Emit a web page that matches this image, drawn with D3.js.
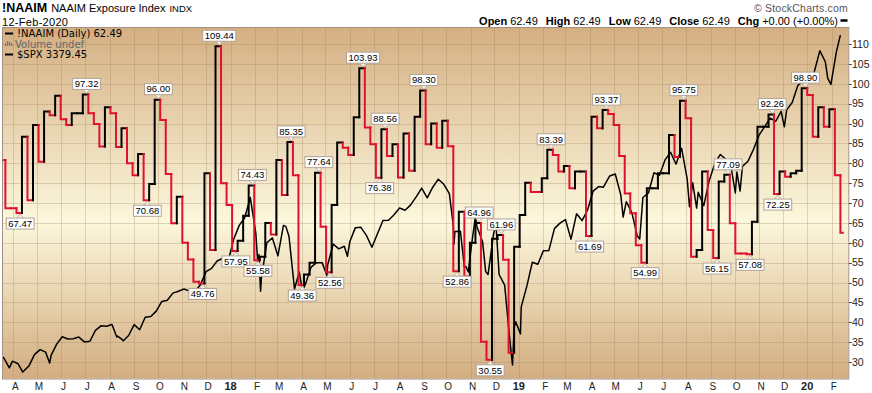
<!DOCTYPE html>
<html>
<head>
<meta charset="utf-8">
<script src="https://cdn.jsdelivr.net/npm/d3@7"></script>
<style>
  body { margin: 0; background: #fff; }
  svg { display: block; font-family: "Liberation Sans", Arial, sans-serif; }
</style>
</head>
<body>
<svg width="872" height="393"></svg>
<script>
// NAAIM weekly readings, first one is Wed 15-Mar-2017 (just left of the chart)
const naaimStart = new Date(2017, 2, 15);
const naaimValues = [
  80.8, 68.7, 68.7, 67.47, 86.7, 70.7, 89.6, 80.4, 93.0, 92.1, 97.0,
  91.1, 89.6, 92.6, 92.6, 97.32, 92.6, 89.9, 84.2, 94.1, 92.6,
  84.1, 88.8, 80.0, 77.0, 82.3, 70.68, 74.8, 96.0, 90.9, 77.3,
  64.9, 71.6, 60.0, 55.8, 50.2, 49.76, 77.5, 58.2, 109.44, 75.0,
  69.5, 57.95, 60.5, 66.8, 74.43, 55.58, 56.5, 65.0, 62.1, 80.8,
  72.0, 85.35, 77.0, 49.36, 52.0, 55.0, 77.64, 64.0, 52.56, 69.5,
  85.2, 83.9, 82.1, 91.6, 103.93, 89.0, 84.8, 76.38, 88.56, 81.8,
  84.8, 76.4, 87.5, 78.1, 91.7, 98.30, 84.8, 90.0, 83.9, 90.7,
  84.3, 52.86, 67.8, 51.5, 60.0, 64.96, 35.1, 30.55, 61.0, 61.96,
  55.7, 32.3, 59.0, 67.0, 75.1, 72.8, 72.8, 76.2, 83.39, 82.1,
  77.9, 79.3, 73.7, 77.9, 77.9, 61.69, 91.7, 88.8, 93.37, 92.4,
  89.6, 81.8, 72.4, 67.4, 59.4, 54.99, 73.7, 73.7, 77.5, 77.5,
  87.1, 81.6, 95.75, 91.3, 56.5, 58.2, 77.9, 63.2, 56.15, 75.4,
  77.09, 64.9, 57.3, 57.3, 57.08, 65.3, 89.2, 89.2, 92.26, 72.25,
  77.9, 76.6, 77.5, 78.1, 98.90, 97.2, 86.7, 94.1, 89.2, 93.6,
  77.0, 62.49
];
const naaimEnd = new Date(2020, 1, 15);

// which weeks carry a value box (index into naaimValues)
const peakWeeks = [15, 28, 39, 45, 52, 57, 65, 69, 76, 86, 90, 99, 109, 123, 131, 139, 145];
const troughWeeks = [3, 26, 36, 42, 46, 54, 59, 68, 82, 88, 106, 116, 129, 135, 140];

// S&P 500 closes
const spxDates = [
  "2017-03-17","2017-03-20","2017-03-27","2017-03-31","2017-04-07","2017-04-13","2017-04-21","2017-04-28",
  "2017-05-05","2017-05-12","2017-05-17","2017-05-19","2017-05-26","2017-06-02","2017-06-09","2017-06-16",
  "2017-06-23","2017-06-30","2017-07-07","2017-07-14","2017-07-21","2017-07-28","2017-08-04","2017-08-10",
  "2017-08-11","2017-08-17","2017-08-18","2017-08-25","2017-09-01","2017-09-08","2017-09-15","2017-09-22",
  "2017-09-29","2017-10-06","2017-10-13","2017-10-20","2017-10-27","2017-11-03","2017-11-10","2017-11-15",
  "2017-11-17","2017-11-24","2017-12-01","2017-12-08","2017-12-15","2017-12-22","2017-12-29",
  "2018-01-05","2018-01-12","2018-01-19","2018-01-26","2018-02-02","2018-02-05","2018-02-06","2018-02-08",
  "2018-02-09","2018-02-16","2018-02-23","2018-03-02","2018-03-09","2018-03-12","2018-03-16","2018-03-23",
  "2018-03-29","2018-04-02","2018-04-06","2018-04-13","2018-04-20","2018-04-27","2018-05-03","2018-05-04",
  "2018-05-11","2018-05-18","2018-05-25","2018-05-29","2018-06-01","2018-06-08","2018-06-15","2018-06-22",
  "2018-06-29","2018-07-06","2018-07-13","2018-07-20","2018-07-27","2018-08-03","2018-08-10","2018-08-17",
  "2018-08-24","2018-08-31","2018-09-07","2018-09-14","2018-09-21","2018-09-28","2018-10-05","2018-10-10",
  "2018-10-11","2018-10-12","2018-10-19","2018-10-24","2018-10-26","2018-10-29","2018-11-02","2018-11-07",
  "2018-11-09","2018-11-16","2018-11-20","2018-11-23","2018-11-30","2018-12-03","2018-12-07","2018-12-14",
  "2018-12-21","2018-12-24","2018-12-26","2018-12-28",
  "2019-01-03","2019-01-04","2019-01-11","2019-01-18","2019-01-25","2019-02-01","2019-02-08","2019-02-15",
  "2019-02-22","2019-03-01","2019-03-08","2019-03-15","2019-03-22","2019-03-29","2019-04-05","2019-04-12",
  "2019-04-18","2019-04-26","2019-05-03","2019-05-10","2019-05-13","2019-05-17","2019-05-24","2019-05-31",
  "2019-06-03","2019-06-07","2019-06-14","2019-06-21","2019-06-28","2019-07-05","2019-07-12","2019-07-19",
  "2019-07-26","2019-08-02","2019-08-05","2019-08-09","2019-08-14","2019-08-16","2019-08-23","2019-08-30",
  "2019-09-06","2019-09-13","2019-09-20","2019-09-27","2019-10-02","2019-10-04","2019-10-08","2019-10-11",
  "2019-10-18","2019-10-25","2019-11-01","2019-11-08","2019-11-15","2019-11-22","2019-11-29","2019-12-03",
  "2019-12-06","2019-12-13","2019-12-20","2019-12-27",
  "2020-01-03","2020-01-10","2020-01-17","2020-01-24","2020-01-27","2020-01-31","2020-02-07","2020-02-12"
];
const spxValues = [
  2378, 2373, 2342, 2363, 2355, 2329, 2349, 2384,
  2399, 2391, 2357, 2382, 2416, 2439, 2432, 2433,
  2438, 2423, 2425, 2459, 2473, 2472, 2477, 2438,
  2441, 2430, 2426, 2443, 2477, 2461, 2500, 2502,
  2519, 2549, 2553, 2575, 2581, 2588, 2582, 2565,
  2579, 2602, 2642, 2652, 2675, 2683, 2674,
  2743, 2786, 2810, 2873, 2762, 2649, 2695, 2581,
  2620, 2732, 2747, 2691, 2786, 2783, 2752, 2588,
  2641, 2582, 2604, 2656, 2670, 2670, 2630, 2663,
  2728, 2713, 2721, 2690, 2735, 2779, 2780, 2755,
  2718, 2760, 2801, 2802, 2819, 2840, 2833, 2850,
  2875, 2902, 2872, 2905, 2930, 2914, 2885, 2786,
  2728, 2767, 2768, 2656, 2658, 2641, 2723, 2814,
  2781, 2736, 2642, 2633, 2760, 2790, 2633, 2600,
  2417, 2351, 2468, 2486,
  2448, 2532, 2596, 2671, 2665, 2707, 2708, 2776,
  2793, 2804, 2743, 2822, 2801, 2834, 2893, 2907,
  2905, 2940, 2946, 2881, 2812, 2860, 2826, 2752,
  2744, 2873, 2887, 2950, 2942, 2990, 3014, 2977,
  3026, 2932, 2844, 2919, 2840, 2889, 2847, 2926,
  2979, 3007, 2992, 2962, 2887, 2952, 2893, 2970,
  2986, 3023, 3067, 3093, 3120, 3110, 3141, 3093,
  3146, 3169, 3221, 3240,
  3235, 3265, 3330, 3295, 3244, 3225, 3328, 3379
];

const yTicks = d3.range(30, 111, 5);
const monthLetters = ["J", "F", "M", "A", "M", "J", "J", "A", "S", "O", "N", "D"];

const plotL = 3, plotR = 848.3, plotT = 28, plotB = 378.5;
const RED = "#e0112f";

const svg = d3.select("svg");
const parse = d3.timeParse("%Y-%m-%d");

const x = d3.scaleTime()
  .domain([new Date(2017, 2, 19), new Date(2020, 1, 22)])
  .range([plotL, plotR]);
const y = d3.scaleLinear().domain([25.85, 114.03]).range([plotB, plotT]);
const ySpx = d3.scaleLinear().domain([2309, 3401]).range([plotB, plotT]);

// background gradient
const defs = svg.append("defs");
const grad = defs.append("linearGradient")
  .attr("id", "bg").attr("x1", 0).attr("y1", 0).attr("x2", 0).attr("y2", 1);
grad.append("stop").attr("offset", "0%").attr("stop-color", "#d4af82");
grad.append("stop").attr("offset", "55%").attr("stop-color", "#fcf7dc");
grad.append("stop").attr("offset", "100%").attr("stop-color", "#d3ad80");
defs.append("clipPath").attr("id", "clip")
  .append("rect").attr("x", plotL).attr("y", plotT)
  .attr("width", plotR - plotL).attr("height", plotB - plotT);

svg.append("rect")
  .attr("x", plotL).attr("y", plotT)
  .attr("width", plotR - plotL).attr("height", plotB - plotT)
  .attr("fill", "url(#bg)");

// grid
const months = x.ticks(d3.timeMonth.every(1)).filter(d => x(d) > plotL + 2 && x(d) < plotR);
const grid = svg.append("g").attr("stroke", "#a0825f").attr("stroke-opacity", 0.3).attr("stroke-width", 1);
grid.selectAll(".gy").data(yTicks).enter().append("line")
  .attr("x1", plotL).attr("x2", plotR)
  .attr("y1", d => Math.round(y(d)) + 0.5).attr("y2", d => Math.round(y(d)) + 0.5);
grid.selectAll(".gx").data(months).enter().append("line")
  .attr("x1", d => Math.round(x(d)) + 0.5).attr("x2", d => Math.round(x(d)) + 0.5)
  .attr("y1", plotT).attr("y2", plotB);

const plot = svg.append("g").attr("clip-path", "url(#clip)");

// S&P 500 overlay
const spx = spxDates.map((d, i) => ({ date: parse(d), value: spxValues[i] }));
plot.append("path")
  .datum(spx)
  .attr("fill", "none")
  .attr("stroke", "#000")
  .attr("stroke-width", 1.5)
  .attr("stroke-linejoin", "round")
  .attr("d", d3.line().x(d => x(d.date)).y(d => ySpx(d.value)));

// NAAIM step line, black when rising, red when falling
const week = i => d3.timeDay.offset(naaimStart, 7 * i);
const n = naaimValues.length;
let prevColor = RED;
const steps = naaimValues.map((v, i) => {
  const prev = i > 0 ? naaimValues[i - 1] : v;
  const color = v < prev ? RED : v > prev ? "#000" : prevColor;
  prevColor = color;
  const x0 = x(week(i));
  const x1 = i < n - 1 ? x(week(i + 1)) : x(naaimEnd);
  return { d: `M${x0},${y(prev)}V${y(v)}H${x1}`, color };
});
plot.selectAll(".naaim").data(steps).enter().append("path")
  .attr("fill", "none")
  .attr("stroke", d => d.color)
  .attr("stroke-width", 2)
  .attr("stroke-linecap", "square")
  .attr("d", d => d.d);

// value boxes
function valueBox(i, above) {
  const v = naaimValues[i];
  const cx = (x(week(i)) + x(week(i + 1))) / 2 + 1;
  const py = y(v);
  const g = svg.append("g");
  const tri = g.append("path");
  const box = g.append("rect");
  const t = g.append("text")
    .attr("x", cx).attr("text-anchor", "middle")
    .attr("font-size", "9.5px").attr("fill", "#000")
    .text(v.toFixed(2));
  const w = t.node().getComputedTextLength() + 4;
  const bh = 11;
  const top = above ? py - 5 - bh : py + 5;
  box.attr("x", cx - w / 2).attr("y", top).attr("width", w).attr("height", bh)
    .attr("fill", "#fff").attr("stroke", "#b3a397").attr("stroke-width", 1);
  const tip = above ? py - 1 : py + 1;
  const base = above ? py - 5.5 : py + 5.5;
  tri.attr("d", `M${cx - 4},${base}L${cx},${tip}L${cx + 4},${base}Z`)
    .attr("fill", "#f3efe9").attr("stroke", "#b3a397").attr("stroke-width", 0.8);
  t.attr("y", top + bh - 2.2);
}
peakWeeks.forEach(i => valueBox(i, true));
troughWeeks.forEach(i => valueBox(i, false));

// plot border
svg.append("rect")
  .attr("x", plotL - 0.5).attr("y", plotT - 0.5)
  .attr("width", plotR - plotL + 1).attr("height", plotB - plotT + 1)
  .attr("fill", "none").attr("stroke", "#a39080");

// right axis
const ra = svg.append("g");
ra.selectAll("line").data(yTicks).enter().append("line")
  .attr("x1", plotR + 0.5).attr("x2", plotR + 3.5)
  .attr("y1", d => Math.round(y(d)) + 0.5).attr("y2", d => Math.round(y(d)) + 0.5)
  .attr("stroke", "#444");
ra.selectAll("text").data(yTicks).enter().append("text")
  .attr("x", 852).attr("y", d => y(d) + 3.8)
  .attr("font-size", "10.5px").attr("fill", "#222")
  .text(d => d);

// bottom axis
svg.append("g").selectAll("text").data(months).enter().append("text")
  .attr("x", d => x(d) + (d.getMonth() === 0 ? 0 : 2))
  .attr("y", 390)
  .attr("text-anchor", "middle")
  .attr("font-size", d => d.getMonth() === 0 ? "11px" : "10px")
  .attr("font-weight", d => d.getMonth() === 0 ? "bold" : "normal")
  .attr("fill", "#222")
  .text(d => d.getMonth() === 0 ? d3.timeFormat("%y")(d) : monthLetters[d.getMonth()]);

// header
const h1 = svg.append("text").attr("x", 2).attr("y", 12).attr("fill", "#000");
h1.append("tspan").attr("font-weight", "bold").attr("font-size", "12.5px").text("!NAAIM");
h1.append("tspan").attr("dx", 4).attr("font-size", "11px").text("NAAIM Exposure Index");
h1.append("tspan").attr("dx", 4).attr("font-size", "9.5px").text("INDX");
svg.append("text").attr("x", 2).attr("y", 25.5).attr("font-size", "11px")
  .attr("letter-spacing", "0.3px").text("12-Feb-2020");

svg.append("text").attr("x", 848).attr("y", 11.5).attr("text-anchor", "end")
  .attr("font-size", "10.5px").attr("fill", "#555").attr("letter-spacing", "0.2px")
  .text("\u00a9 StockCharts.com");

const quote = [["Open", "62.49"], ["High", "62.49"], ["Low", "62.49"], ["Close", "62.49"], ["Chg", "+0.00 (+0.00%)"]];
const qt = svg.append("text").attr("x", 838).attr("y", 24.5).attr("text-anchor", "end")
  .attr("font-size", "11px").attr("fill", "#000");
quote.forEach(([k, v], i) => {
  qt.append("tspan").attr("font-weight", "bold").attr("dx", i ? 8 : 0).text(k);
  qt.append("tspan").attr("dx", 3).text(v);
});
svg.append("line").attr("x1", 840.5).attr("x2", 847.5).attr("y1", 20.5).attr("y2", 20.5)
  .attr("stroke", "#000").attr("stroke-width", 2.5);

// legend inside plot
const lg = svg.append("g").attr("font-family", "'DejaVu Sans', Verdana, sans-serif").attr("font-size", "10px");
lg.append("line").attr("x1", 5).attr("x2", 13).attr("y1", 33.5).attr("y2", 33.5).attr("stroke", "#000").attr("stroke-width", 2);
lg.append("text").attr("x", 17).attr("y", 37).attr("fill", "#000").text("!NAAIM (Daily) 62.49");
[[5, 3], [7, 5], [9, 4], [11, 3]].forEach(([bx, bh]) => {
  lg.append("rect").attr("x", bx).attr("y", 46 - bh).attr("width", 1.3).attr("height", bh).attr("fill", "#777");
});
lg.append("text").attr("x", 15).attr("y", 47.5).attr("fill", "#666").text("Volume undef");
lg.append("line").attr("x1", 5).attr("x2", 13).attr("y1", 54.5).attr("y2", 54.5).attr("stroke", "#000").attr("stroke-width", 2);
lg.append("text").attr("x", 17).attr("y", 58).attr("fill", "#000").text("$SPX 3379.45");
</script>
</body>
</html>
